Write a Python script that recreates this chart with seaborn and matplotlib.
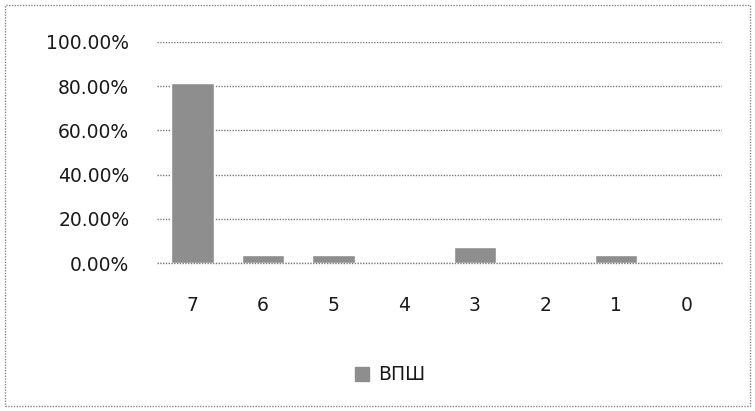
import matplotlib
matplotlib.use("Agg")
import matplotlib.pyplot as plt
import seaborn as sns
import pandas as pd
from matplotlib.ticker import FuncFormatter
from matplotlib.patches import Rectangle, Patch

categories = ["7", "6", "5", "4", "3", "2", "1", "0"]
values = [81.48, 3.70, 3.70, 0.0, 7.41, 0.0, 3.70, 0.0]
series_name = "ВПШ"

sns.set_theme(style="white")
plt.rcParams['font.family'] = ['DejaVu Sans']

df = pd.DataFrame({"cat": categories, "val": values})

fig = plt.figure(figsize=(7.55, 4.11), dpi=100)
ax = fig.add_axes([0.208, 0.360, 0.748, 0.538])
sns.barplot(data=df, x="cat", y="val", order=categories, color="#8e8e8e",
            width=0.6, saturation=1, ax=ax, zorder=3)
ax.set_ylim(0, 100)
ax.set_yticks([0, 20, 40, 60, 80, 100])
ax.yaxis.set_major_formatter(FuncFormatter(lambda v, p: f"{v:.2f}%"))
ax.grid(axis="y", color="#7a7a7a", linestyle=(0, (1, 1)), linewidth=1, zorder=0)
ax.axhline(0, color="#7a7a7a", linestyle=(0, (1, 1)), linewidth=1, zorder=2, clip_on=False)
for s in ax.spines.values():
    s.set_visible(False)
ax.set_xlabel("")
ax.set_ylabel("")
ax.tick_params(axis="y", length=0, pad=20, labelsize=13.5, labelcolor="#1a1a1a")
ax.tick_params(axis="x", length=0, pad=24, labelsize=13.5, labelcolor="#1a1a1a")
ax.set_xlim(-0.5, len(categories) - 0.5)

leg = fig.legend(handles=[Patch(color="#8e8e8e", label=series_name)],
                 loc="center", bbox_to_anchor=(0.517, 0.088), frameon=False,
                 fontsize=13.5, handlelength=0.75, handleheight=0.75, handletextpad=0.5)
for t in leg.get_texts():
    t.set_color("#1a1a1a")

fig.patches.append(Rectangle((0.007, 0.012), 0.986, 0.976, transform=fig.transFigure,
                             fill=False, edgecolor="#888888", linestyle=(0, (1, 1)),
                             linewidth=1))
fig.savefig("out.png", dpi=100)
